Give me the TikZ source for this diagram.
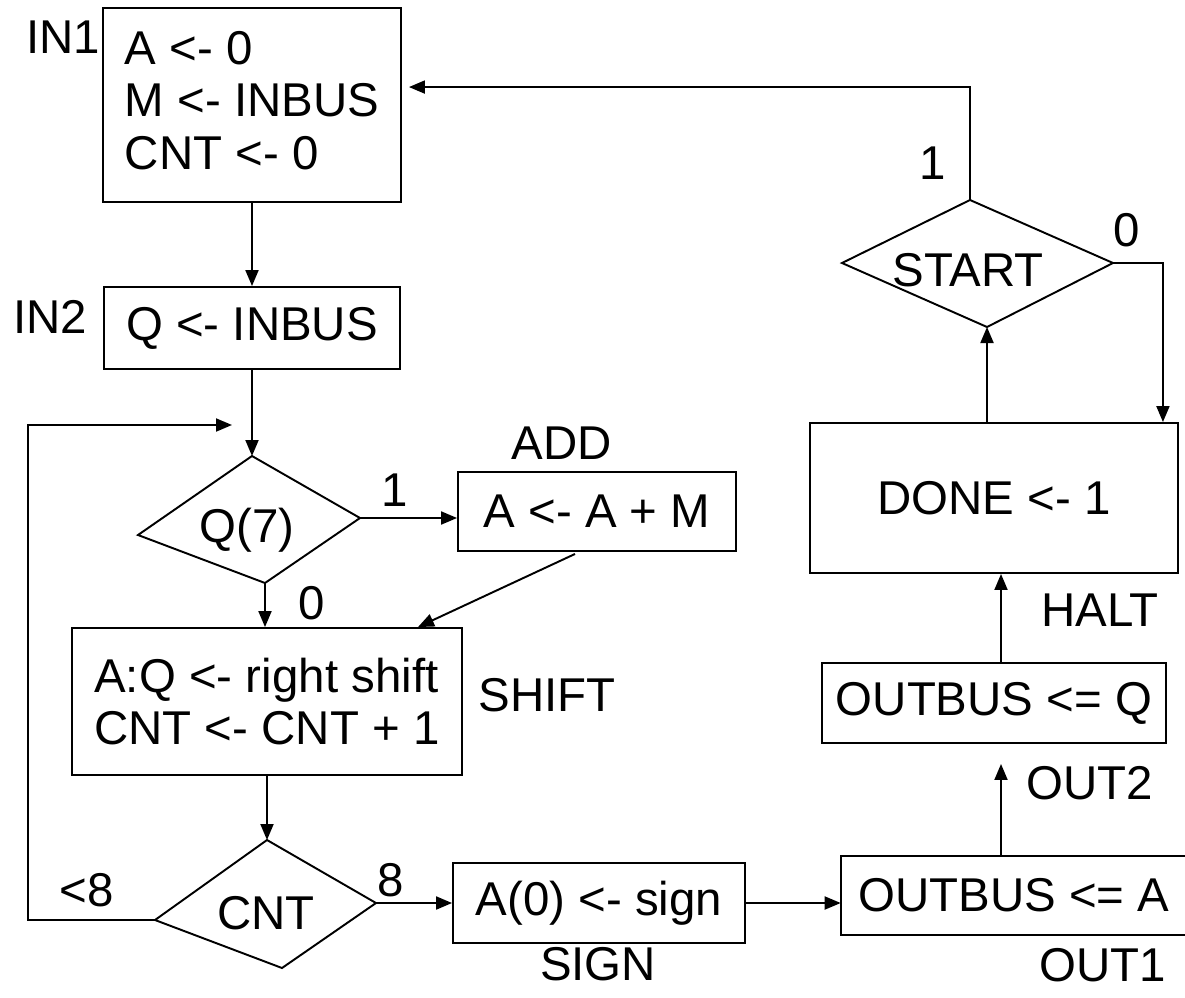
\documentclass[tikz,border=0pt]{standalone}
\usepackage{fontspec}
\setmainfont{Liberation Sans}
\usetikzlibrary{arrows.meta,calc}
\begin{document}
\begin{tikzpicture}[x=0.02cm,y=-0.02cm,
  every node/.style={font=\fontsize{27}{30}\selectfont, inner sep=0pt},
  box/.style={draw, line width=1.1pt},
  line/.style={line width=1.1pt},
  arr/.style={line width=1.1pt, -{Triangle[length=0.32cm,width=0.26cm]}}]
\useasboundingbox (0,0) rectangle (1185,997);

% boxes
\node[box, minimum width=5.96cm, minimum height=3.88cm, align=left, text depth=5.5pt] (in1) at (252,105) {A <- 0\\M <- INBUS\\CNT <- 0};
\node[box, minimum width=5.92cm, minimum height=1.64cm] (in2) at (252,328) {Q <- INBUS};
\node[box, minimum width=5.56cm, minimum height=1.58cm] (add) at (597,511.5) {A <- A + M};
\node[box, minimum width=7.8cm, minimum height=2.94cm, align=left] (shift) at (267,701.5) {A:Q <- right shift\\CNT <- CNT + 1};
\node[box, minimum width=5.84cm, minimum height=1.6cm] (sign) at (599,903) {A(0) <- sign};
\node[minimum width=6.92cm, minimum height=1.58cm] (out1) at (1014,895.5) {OUTBUS <= A};
\draw[line] (out1.north east) -- (out1.north west) -- (out1.south west) -- (out1.south east);
\node[box, minimum width=6.88cm, minimum height=1.6cm] (outq) at (994,703) {OUTBUS <= Q};
\node[box, minimum width=7.36cm, minimum height=3.0cm] (done) at (994,498) {DONE <- 1};

% decision Q(7)
\coordinate (qt) at (252,456);
\coordinate (qr) at (360,518);
\coordinate (qb) at (265,583);
\coordinate (ql) at (138,535);
\draw[line] (qt) -- (qr) -- (qb) -- (ql) -- cycle;
\node (q7) at (247,530) {Q(7)};

% decision CNT
\coordinate (ct) at (267,840);
\coordinate (cr) at (376,903);
\coordinate (cb) at (282,968);
\coordinate (cl) at (155,920);
\draw[line] (ct) -- (cr) -- (cb) -- (cl) -- cycle;
\node (cnt) at (266,913) {CNT};

% decision START
\coordinate (st) at (970,200);
\coordinate (sr) at (1113,263);
\coordinate (sb) at (987,327);
\coordinate (sl) at (842,263);
\draw[line] (st) -- (sr) -- (sb) -- (sl) -- cycle;
\node (start) at (968,270) {START};

% labels
\node (lin1) at (63,37) {IN1};
\node (lin2) at (50,317) {IN2};
\node (lone) at (395,490) {1};
\node (ladd) at (562,443) {ADD};
\node (lzero) at (312,603) {0};
\node (lshift) at (547,695) {SHIFT};
\node (llt) at (87,890) {<8};
\node (leight) at (391,880) {8};
\node (lsign) at (598,964) {SIGN};
\node (lout1) at (1103,965) {OUT1};
\node (lout2) at (1090,783) {OUT2};
\node (lhalt) at (1100,610) {HALT};
\node (lszero) at (1127,230) {0};
\node (lsone) at (933,163) {1};

% connectors
\coordinate (vx) at (1001,0);
\coordinate (loopend) at (232,425);
\draw[arr] (in1.south) -- (in2.north);
\draw[arr] (in2.south) -- (qt);
\draw[arr] (cl) -- ++(-127,0) |- (loopend);
\draw[arr] (qr) -- (qr -| add.west);
\draw[arr] ($(add.south)+(-22,2)$) -- ($(shift.north)+(151,0)$);
\draw[arr] (qb) -- (qb |- shift.north);
\draw[arr] (shift.south) -- (ct);
\draw[arr] (cr) -- (cr -| sign.west);
\draw[arr] (sign.east) -- (sign.east -| out1.west);
\draw[arr, shorten >=0.4cm] (out1.north -| vx) -- (outq.south -| vx);
\draw[arr] (outq.north -| vx) -- (done.south -| vx);
\draw[arr] (done.north -| sb) -- (sb);
\draw[arr] (sr) -| ($(done.north east)+(-16,0)$);
\draw[arr] (st) |- ($(in1.north east)+(7,80)$);
\end{tikzpicture}
\end{document}
